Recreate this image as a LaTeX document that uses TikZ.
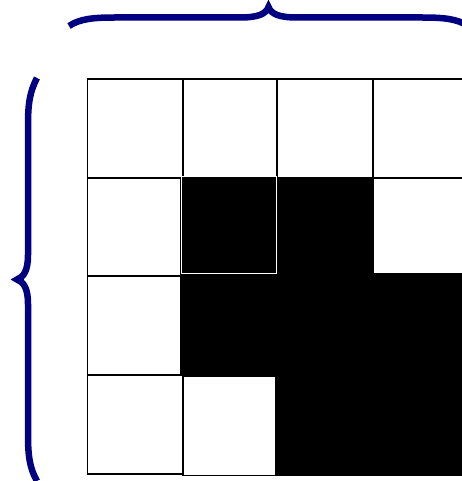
\documentclass[tikz,border=0pt]{standalone}
\definecolor{bracenavy}{RGB}{0,0,128}
\tikzset{
  whitecell/.style={draw=black, fill=white, line width=1.6pt},
  blackcell/.style={draw=black, fill=black, line width=1.2pt},
  brc/.style={draw=bracenavy, line width=6.5pt, line join=miter, miter limit=20},
}
\begin{document}
\begin{tikzpicture}[x=1pt,y=-1pt]
\useasboundingbox (0,0) rectangle (461,481);
% row 1
\draw[whitecell] (87.5,79) rectangle (183,178);
\draw[whitecell] (183,79) rectangle (277,178);
\draw[whitecell] (277,79) rectangle (373,178);
\draw[whitecell] (373,79) rectangle (468,178);
% row 2
\draw[whitecell] (87.5,178) rectangle (181,276);
\draw[whitecell] (373,178) rectangle (468,275);
% row 3
\draw[whitecell] (87.5,276) rectangle (183,375);
% row 4
\draw[whitecell] (87.5,375) rectangle (183,474);
\draw[whitecell] (183,376.5) rectangle (276,475.5);
% black cells
\draw[blackcell] (276,177.5) rectangle (373,275);
\draw[blackcell] (181,274) rectangle (277,375);
\draw[blackcell] (277,274) rectangle (373,375);
\draw[blackcell] (373,274) rectangle (470,375);
\draw[blackcell] (276,375) rectangle (373,475);
\draw[blackcell] (373,375.5) rectangle (470,475);
\draw[fill=black, draw=white, line width=0.6pt] (181,176.5) rectangle (276,273.5);
% top brace
\draw[brc] (69,26) .. controls (80,18.5) and (95,17.5) .. (115,17.5) -- (240,17.5)
  .. controls (258,17.5) and (266,14) .. (268.5,7)
  .. controls (271,14) and (279,17.5) .. (297,17.5) -- (422,17.5)
  .. controls (442,17.5) and (457,18.5) .. (468,26);
% left brace
\draw[brc] (37,78) .. controls (29.5,92) and (28,105) .. (28,125) -- (28,255)
  .. controls (28,270) and (24,277) .. (17,279.5)
  .. controls (24,282) and (28,289) .. (28,304) -- (28,435)
  .. controls (28,455) and (29.5,468) .. (37,481);
\end{tikzpicture}
\end{document}
